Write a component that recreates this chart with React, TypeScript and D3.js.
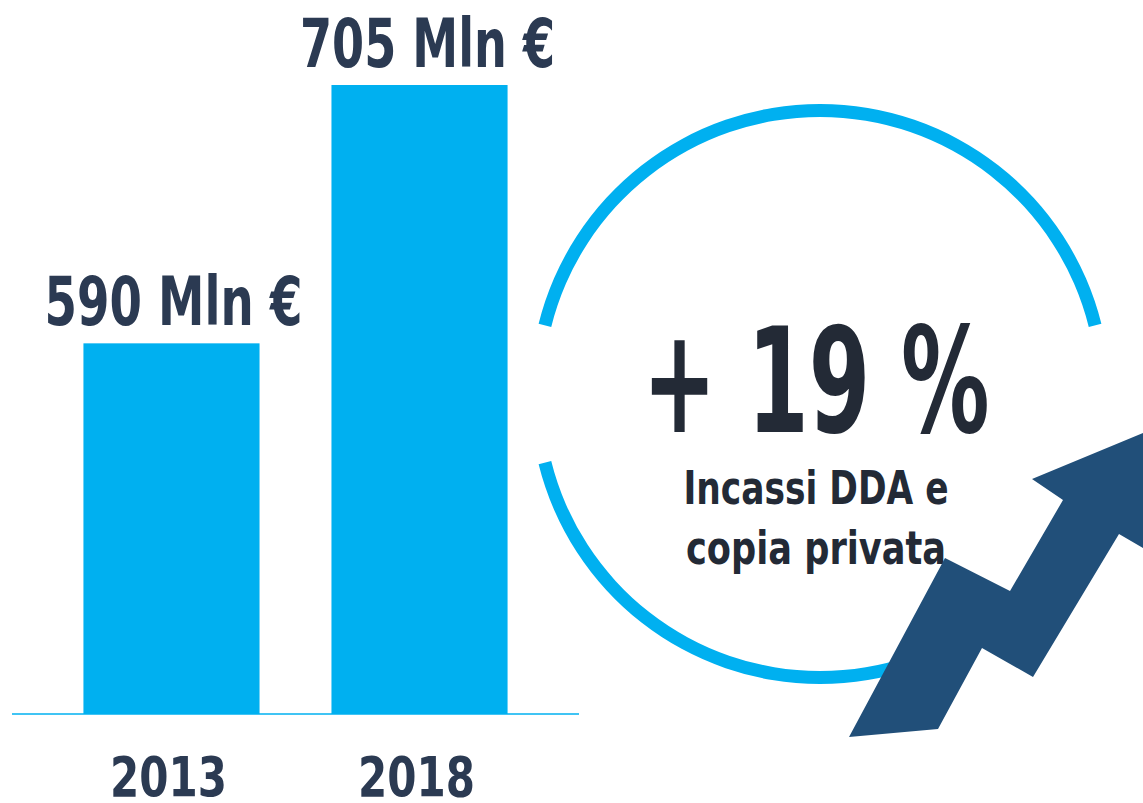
import React from 'react';
import * as d3 from 'd3';

// chart data
const years = ['2013', '2018'];
const values = [590, 705];
const valueLabels = ['590 Mln €', '705 Mln €'];
const growthLabel = '+ 19 %';
const captionLines = ['Incassi DDA e', 'copia privata'];

const W = 1143;
const H = 803;
const FONT = '"DejaVu Sans Condensed", "DejaVu Sans", sans-serif';
const BLUE = '#00b0f0';
const DARK = '#2b3a52';

export default function App() {
  // bar chart scales
  const x = d3.scaleBand<string>()
    .domain(years)
    .range([12, 579])
    .paddingInner(0.29)
    .paddingOuter(0.288);

  const y = d3.scaleLinear()
    .domain([425, 705])
    .range([714, 85]);

  // ring around the percentage
  const cx = 820;
  const cy = 394;
  const gap = (14 * Math.PI) / 180;
  const ring = d3.arc<any>()
    .innerRadius(277)
    .outerRadius(290);
  const topArc = ring({ startAngle: -Math.PI / 2 + gap, endAngle: Math.PI / 2 - gap });
  const bottomArc = ring({ startAngle: Math.PI / 2 + gap, endAngle: (3 * Math.PI) / 2 - gap });

  // rising arrow
  const arrowPts: [number, number][] = [
    [1143, 433], [1032, 479], [1063, 500], [1010, 591], [945, 558],
    [849, 737], [938, 729], [982, 648], [1033, 677], [1119, 534], [1143, 548],
  ];
  const arrow = d3.line()(arrowPts) + 'Z';

  return (
    <svg width={W} height={H} style={{ position: 'absolute', left: 0, top: 0, background: '#fff' }}>
      <g fontFamily={FONT} fontWeight="bold">
        {years.map((yr, i) => (
          <rect
            key={yr}
            x={x(yr)}
            y={y(values[i])}
            width={x.bandwidth()}
            height={y.range()[0] - y(values[i])}
            fill={BLUE}
          />
        ))}
        <line x1={12} x2={579} y1={714} y2={714} stroke={BLUE} strokeWidth={1.5} />
        {years.map((yr, i) => (
          <text
            key={'v' + yr}
            x={(x(yr) as number) + x.bandwidth() / 2 + (i === 0 ? 2 : 8)}
            y={y(values[i]) - 18}
            textAnchor="middle"
            fontSize={68}
            fill={DARK}
            textLength={i === 0 ? 258 : 255}
            lengthAdjust="spacingAndGlyphs"
          >
            {valueLabels[i]}
          </text>
        ))}
        {years.map((yr) => (
          <text
            key={'x' + yr}
            x={(x(yr) as number) + x.bandwidth() / 2 - 3}
            y={796}
            textAnchor="middle"
            fontSize={56}
            fill={DARK}
            textLength={117}
            lengthAdjust="spacingAndGlyphs"
          >
            {yr}
          </text>
        ))}

        <path d={topArc as string} transform={`translate(${cx},${cy})`} fill={BLUE} />
        <path d={bottomArc as string} transform={`translate(${cx},${cy})`} fill={BLUE} />

        <text
          x={816}
          y={432}
          textAnchor="middle"
          fontSize={146}
          fill="#232a36"
          textLength={347}
          lengthAdjust="spacingAndGlyphs"
        >
          {growthLabel}
        </text>
        {captionLines.map((ln, i) => (
          <text
            key={ln}
            x={816}
            y={504 + i * 60}
            textAnchor="middle"
            fontSize={47}
            fill="#232a36"
            textLength={i === 0 ? 265 : 260}
            lengthAdjust="spacingAndGlyphs"
          >
            {ln}
          </text>
        ))}

        <path d={arrow} fill="#214f79" />
      </g>
    </svg>
  );
}
